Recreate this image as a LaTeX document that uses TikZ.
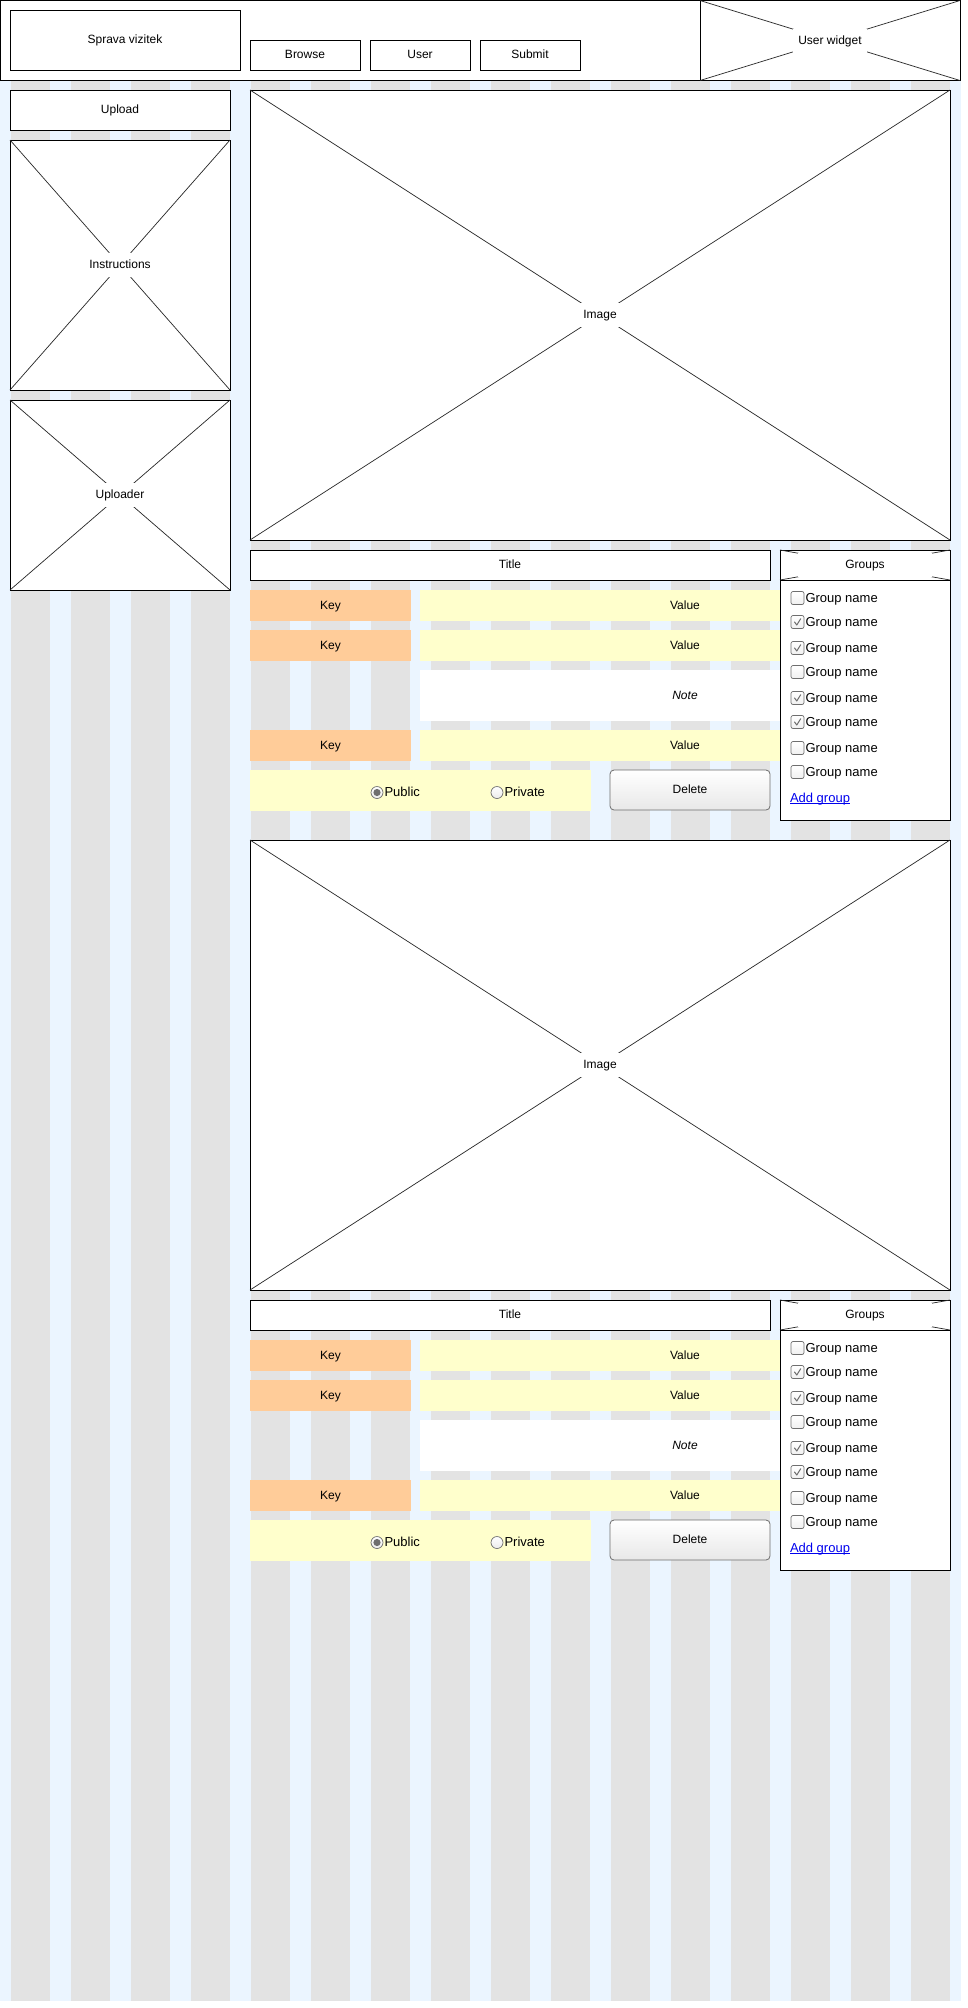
\documentclass[tikz,border=0pt]{standalone}
\usepackage{fontspec}
\setmainfont{Liberation Sans}
\definecolor{gridblue}{RGB}{235,245,255}
\definecolor{gridgray}{RGB}{227,227,227}
\definecolor{keyor}{RGB}{255,204,153}
\definecolor{valyel}{RGB}{255,255,204}
\definecolor{linkblue}{RGB}{0,0,238}
\definecolor{ctrlgray}{RGB}{110,110,110}
\begin{document}
\begin{tikzpicture}[x=1pt,y=-1pt,
  every node/.style={font=\fontsize{12}{14}\selectfont, inner sep=0pt, outer sep=0pt, text height=9pt, text depth=2pt},
  box/.style={draw=black, line width=1pt, fill=white, anchor=north west},
  xline/.style={line width=0.7pt, draw=black!85},
  xlabel/.style={fill=white, inner xsep=5pt, inner ysep=0pt, minimum height=24pt},
  keybox/.style={fill=keyor, anchor=north west, minimum width=161pt, minimum height=31pt},
  valbox/.style={fill=valyel, anchor=north west, minimum width=530pt, minimum height=31pt},
  chk/.style={draw=ctrlgray, line width=0.7pt, rounded corners=2pt, minimum size=13pt, top color=white, bottom color=gray!12, text height=, text depth=},
  radio/.style={circle, draw=ctrlgray, line width=0.7pt, minimum size=12pt, top color=white, bottom color=gray!15, text height=, text depth=},
  ctl/.style={font=\fontsize{13}{15}\selectfont, anchor=west, text height=10.5pt, text depth=2.5pt},
  btn/.style={draw=ctrlgray, line width=0.8pt, rounded corners=4pt, top color=white, bottom color=gray!18, anchor=north west}
]
\useasboundingbox (0,0) rectangle (968,2008);
\fill[white] (0,0) rectangle (968,2008);
% grid
\fill[gridblue] (0,80) rectangle (961,2001);
\foreach \k in {0,...,15} \fill[gridgray] (11+60*\k,80) rectangle (50+60*\k,2001);

% header
\node[box, minimum width=960pt, minimum height=80pt] (header) at (0.5,0.5) {};
\node[box, minimum width=230pt, minimum height=60pt] (title) at (10,10) {Sprava vizitek};
\node[box, minimum width=110pt, minimum height=30pt] (browse) at (250,40) {Browse};
\node[box, minimum width=100pt, minimum height=30pt] (user) at (370,40) {User};
\node[box, minimum width=100pt, minimum height=30pt] (submit) at (480,40) {Submit};
\node[box, minimum width=260pt, minimum height=80pt] (uw) at (700,0.5) {};
\draw[xline] (uw.north west) -- (uw.south east) (uw.south west) -- (uw.north east);
\node[xlabel] (uwl) at (uw.center) {User widget};

% left column
\node[box, minimum width=220pt, minimum height=40pt] (upload) at (10,90) {Upload};
\node[box, minimum width=220pt, minimum height=250pt] (instr) at (10,140) {};
\draw[xline] (instr.north west) -- (instr.south east) (instr.south west) -- (instr.north east);
\node[xlabel] (instrl) at (instr.center) {Instructions};
\node[box, minimum width=220pt, minimum height=190pt] (upl) at (10,400) {};
\draw[xline] (upl.north west) -- (upl.south east) (upl.south west) -- (upl.north east);
\node[xlabel] (upll) at (upl.center) {Uploader};

% cards
\foreach \dy/\s in {0/a,750/b}{
  \node[box, minimum width=700pt, minimum height=450pt] (img\s) at (250,90+\dy) {};
  \draw[xline] (img\s.north west) -- (img\s.south east) (img\s.south west) -- (img\s.north east);
  \node[xlabel] (imgl\s) at (img\s.center) {Image};
  \node[box, minimum width=520pt, minimum height=30pt] (tit\s) at (250,550+\dy) {Title};
  \node[valbox] (va\s) at (420,590+\dy) {Value};
  \node[valbox] (vb\s) at (420,630+\dy) {Value};
  \node[fill=white, anchor=north west, minimum width=530pt, minimum height=51pt,
        font=\fontsize{12}{14}\selectfont\itshape] (note\s) at (420,670+\dy) {Note};
  \node[valbox] (vc\s) at (420,730+\dy) {Value};
  \node[keybox] (ka\s) at (250,590+\dy) {Key};
  \node[keybox] (kb\s) at (250,630+\dy) {Key};
  \node[keybox] (kc\s) at (250,730+\dy) {Key};
  \node[fill=valyel, anchor=north west, minimum width=341pt, minimum height=41pt] (pubrow\s) at (250,770+\dy) {};
  \node[radio] (pub\s) at (377,792.5+\dy) {};
  \fill[ctrlgray] (pub\s.center) circle (3.6pt);
  \node[ctl] (publ\s) at (384.5,792.5+\dy) {Public};
  \node[radio] (priv\s) at (497,792.5+\dy) {};
  \node[ctl] (privl\s) at (504.5,792.5+\dy) {Private};
  \node[btn, minimum width=160pt, minimum height=40pt] (del\s) at (610,770+\dy) {Delete};
  \node[box, minimum width=170pt, minimum height=30pt] (gh\s) at (780,550+\dy) {};
  \draw[xline] (gh\s.north west) -- (gh\s.south east) (gh\s.south west) -- (gh\s.north east);
  \node[xlabel, minimum width=134pt] (ghl\s) at (gh\s.center) {Groups};
  \node[box, minimum width=170pt, minimum height=240pt] (gb\s) at (780,580+\dy) {};
  \foreach \yy/\c [count=\i] in {598/0,622/1,648/1,672/0,698/1,722/1,748/0,772/0}{
    \node[chk] (cb\s\i) at (797.5,\yy+\dy) {};
    \ifnum\c=1
      \draw[ctrlgray, line width=1pt, line cap=round, line join=round]
        ([shift={(-3,0)}]cb\s\i.center) -- ([shift={(-0.7,3)}]cb\s\i.center) -- ([shift={(3.2,-3.3)}]cb\s\i.center);
    \fi
    \node[ctl] (gn\s\i) at (805.5,\yy+\dy) {Group name};
  }
  \node[ctl, text=linkblue] (add\s) at (790,798+\dy) {Add group};
  \draw[linkblue, line width=0.8pt] ([yshift=-1.6pt]add\s.base west) -- ([yshift=-1.6pt]add\s.base east);
}
\end{tikzpicture}
\end{document}
